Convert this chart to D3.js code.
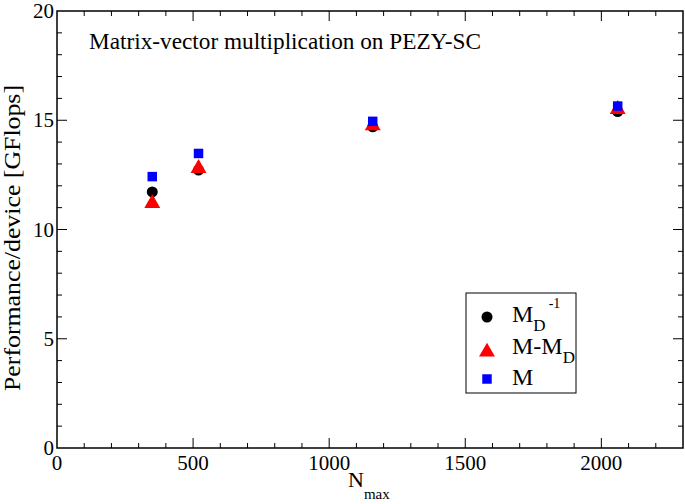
<!DOCTYPE html>
<html>
<head>
<meta charset="utf-8">
<script src="https://cdn.jsdelivr.net/npm/d3@7"></script>
<style>
  body { margin: 0; background: #fff; }
</style>
</head>
<body>
<svg width="685" height="504"></svg>
<script>
// data
var nmax = [350, 520, 1160, 2060];
var mdInv = [11.72, 12.72, 14.7, 15.4];   // M_D^-1
var mMinusMd = [11.2, 12.8, 14.75, 15.5]; // M-M_D
var mFull = [12.42, 13.48, 14.95, 15.65]; // M
var xTicks = [0, 500, 1000, 1500, 2000];
var yTicks = [0, 5, 10, 15, 20];

var serif = "'Liberation Serif', 'Times New Roman', Times, serif";

var svg = d3.select("svg")
    .attr("font-family", serif),
    margin = {top: 11, right: 2, bottom: 56, left: 57},
    width = +svg.attr("width") - margin.left - margin.right,
    height = +svg.attr("height") - margin.top - margin.bottom;

var x = d3.scaleLinear().domain([0, 2300]).range([0, width]),
    y = d3.scaleLinear().domain([0, 20]).range([height, 0]);

var g = svg.append("g")
    .attr("transform", "translate(" + margin.left + "," + margin.top + ")");

// frame
g.append("rect")
    .attr("width", width).attr("height", height)
    .attr("fill", "none").attr("stroke", "#000").attr("stroke-width", 1.5);

// minor + major ticks, drawn inward on all four sides
var xMinor = d3.range(100, 2300, 100),
    yMinor = d3.range(1, 20, 1);
function tickLen(v, step) { return v % step === 0 ? 10 : 5; }

g.selectAll(".xt").data(xMinor).enter().append("line")
    .attr("x1", function(d) { return x(d); }).attr("x2", function(d) { return x(d); })
    .attr("y1", height).attr("y2", function(d) { return height - tickLen(d, 500); })
    .attr("stroke", "#000");
g.selectAll(".xtt").data(xMinor).enter().append("line")
    .attr("x1", function(d) { return x(d); }).attr("x2", function(d) { return x(d); })
    .attr("y1", 0).attr("y2", function(d) { return tickLen(d, 500); })
    .attr("stroke", "#000");
g.selectAll(".yt").data(yMinor).enter().append("line")
    .attr("y1", function(d) { return y(d); }).attr("y2", function(d) { return y(d); })
    .attr("x1", 0).attr("x2", function(d) { return tickLen(d, 5); })
    .attr("stroke", "#000");
g.selectAll(".ytr").data(yMinor).enter().append("line")
    .attr("y1", function(d) { return y(d); }).attr("y2", function(d) { return y(d); })
    .attr("x1", width).attr("x2", function(d) { return width - tickLen(d, 5); })
    .attr("stroke", "#000");

// tick labels
g.selectAll(".xl").data(xTicks).enter().append("text")
    .attr("x", function(d) { return x(d); }).attr("y", height + 22)
    .attr("text-anchor", "middle").attr("font-size", 21)
    .text(function(d) { return d; });
g.selectAll(".yl").data(yTicks).enter().append("text")
    .attr("x", -3).attr("y", function(d) { return y(d) + 7; })
    .attr("text-anchor", "end").attr("font-size", 21)
    .text(function(d) { return d; });

// axis titles
var xt = svg.append("text")
    .attr("x", 348).attr("y", 487).attr("font-size", 22);
xt.append("tspan").text("N");
xt.append("tspan").attr("font-size", 15).attr("dy", 12).text("max");

svg.append("text")
    .attr("transform", "translate(20,238) rotate(-90)")
    .attr("text-anchor", "middle").attr("font-size", 23)
    .attr("textLength", 306).attr("lengthAdjust", "spacingAndGlyphs")
    .text("Performance/device [GFlops]");

g.append("text")
    .attr("x", 32).attr("y", 38).attr("font-size", 22.5)
    .attr("textLength", 392).attr("lengthAdjust", "spacingAndGlyphs")
    .text("Matrix-vector multiplication on PEZY-SC");

// markers
var circle = d3.symbol().type(d3.symbolCircle).size(95),
    tri = d3.symbol().type(d3.symbolTriangle).size(110),
    sq = d3.symbol().type(d3.symbolSquare).size(90);

function drawSeries(vals, sym, color) {
    g.selectAll(null).data(vals).enter().append("path")
        .attr("d", sym)
        .attr("transform", function(d, i) { return "translate(" + x(nmax[i]) + "," + y(d) + ")"; })
        .attr("fill", color);
}
drawSeries(mdInv, circle, "#000");
drawSeries(mMinusMd, tri, "#f00");
drawSeries(mFull, sq, "#00f");

// legend
var lg = svg.append("g").attr("transform", "translate(466,293)");
lg.append("rect").attr("width", 110).attr("height", 100)
    .attr("fill", "#fff").attr("stroke", "#000").attr("stroke-width", 1);
var legendItems = [
    {sym: circle, color: "#000", y: 24},
    {sym: tri, color: "#f00", y: 59},
    {sym: sq, color: "#00f", y: 86}
];
lg.selectAll(null).data(legendItems).enter().append("path")
    .attr("d", function(d) { return d.sym(); })
    .attr("transform", function(d) { return "translate(21," + d.y + ")"; })
    .attr("fill", function(d) { return d.color; });

var t1 = lg.append("text").attr("x", 46).attr("y", 29).attr("font-size", 24);
t1.append("tspan").text("M");
t1.append("tspan").attr("font-size", 17).attr("dy", 9).text("D");
t1.append("tspan").attr("font-size", 14).attr("dy", -23).attr("dx", 3).text("-1");
var t2 = lg.append("text").attr("x", 46).attr("y", 61).attr("font-size", 24);
t2.append("tspan").text("M-M");
t2.append("tspan").attr("font-size", 17).attr("dy", 9).text("D");
lg.append("text").attr("x", 46).attr("y", 92).attr("font-size", 24).text("M");
</script>
</body>
</html>
